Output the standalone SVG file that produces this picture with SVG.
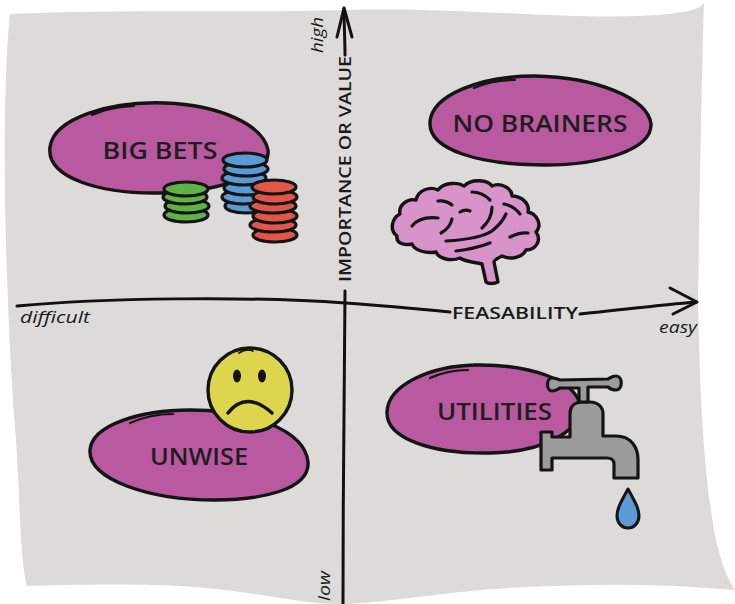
<svg xmlns="http://www.w3.org/2000/svg" width="735" height="604" viewBox="0 0 735 604">
  <style>
    .ink { stroke: #141414; stroke-linecap: round; stroke-linejoin: round; }
    .blob { fill: #b95aa0; stroke: #141414; stroke-width: 3.4; stroke-linejoin: round; }
    .gloss { fill: none; stroke: #141414; stroke-width: 2.2; stroke-linecap: round; }
    .label { font-family: "Open Sans", "Noto Sans", sans-serif; font-size: 24px; font-weight: 600; fill: #1e1e1e; text-anchor: middle; }
    .axis-title { font-family: "Open Sans", "Noto Sans", sans-serif; font-size: 16px; font-weight: 600; fill: #1a1a1a; text-anchor: middle; }
    .axis-end { font-family: "Open Sans", "Noto Sans", sans-serif; font-size: 17px; font-style: italic; fill: #1a1a1a; }
    .axis-line { fill: none; stroke: #111; stroke-width: 3; stroke-linecap: round; stroke-linejoin: round; }
    .coin { stroke: #141414; stroke-width: 3.2; }
    .green { fill: #5fb246; }
    .blue { fill: #5b9bd5; }
    .red { fill: #e0574a; }
    .fold { fill: none; stroke: #141414; stroke-width: 3.2; stroke-linecap: round; }
  </style>

  <!-- sheet of paper -->
  <rect width="735" height="604" fill="#ffffff"/>
  <path id="paper" fill="#dcdbda"
        d="M10,14 C120,9 250,13 345,10 C450,7 560,19 640,16 C680,14 698,11 704,3
           C702,60 700,200 698,300 C700,400 704,480 716,540 C722,565 728,580 735,590
           C650,582 560,584 480,590 C420,596 370,604 340,604 C300,604 250,590 180,586
           C120,583 60,585 27,586 C20,560 20,500 16,440 C11,380 7,300 5,200 C4,120 6,50 10,14 Z"/>

  <!-- axes -->
  <g id="axes">
    <path class="axis-line" d="M343,604 C343,500 344,400 345,291"/>
    <path class="axis-line" d="M345,55 C345,40 344,25 344,9"/>
    <path class="axis-line" stroke-width="3.4" d="M337,37 L344,8 L352,37"/>
    <path class="axis-line" d="M17,306 C100,298 250,296 345,303 C390,306 420,309 450,312"/>
    <path class="axis-line" d="M580,314 C620,310 660,305 696,302"/>
    <path class="axis-line" stroke-width="3.4" d="M670,288 L697,302 L673,314"/>
    <text class="axis-title" transform="translate(351,169) rotate(-90)" textLength="226" lengthAdjust="spacingAndGlyphs">IMPORTANCE OR VALUE</text>
    <text class="axis-title" x="515" y="319" textLength="126" lengthAdjust="spacingAndGlyphs">FEASABILITY</text>
    <text class="axis-end" transform="translate(323,53) rotate(-90)" textLength="36" lengthAdjust="spacingAndGlyphs">high</text>
    <text class="axis-end" transform="translate(330,601) rotate(-90)" textLength="30" lengthAdjust="spacingAndGlyphs">low</text>
    <text class="axis-end" x="20" y="323" textLength="70" lengthAdjust="spacingAndGlyphs">difficult</text>
    <text class="axis-end" x="659" y="333" textLength="38" lengthAdjust="spacingAndGlyphs">easy</text>
  </g>

  <!-- top-left quadrant -->
  <g id="big-bets">
    <path class="blob" d="M50,147 C54,118 110,101 165,103 C220,105 263,125 268,150 C271,176 215,192 160,193 C100,194 46,178 50,147 Z"/>
    <path class="gloss" d="M92,115 Q110,107 134,106"/>
    <text class="label" x="160" y="158.5" textLength="115" lengthAdjust="spacingAndGlyphs">BIG BETS</text>
  </g>

  <g id="chips">
    <g class="coin green">
      <ellipse cx="186" cy="215" rx="22" ry="7"/>
      <ellipse cx="187" cy="206" rx="22" ry="7"/>
      <ellipse cx="185" cy="197" rx="22" ry="7"/>
      <ellipse cx="186" cy="189" rx="22" ry="7"/>
    </g>
    <g class="coin blue">
      <ellipse cx="246" cy="206" rx="21" ry="7"/>
      <ellipse cx="244" cy="197" rx="22" ry="7"/>
      <ellipse cx="246" cy="188" rx="22" ry="7"/>
      <ellipse cx="244" cy="178" rx="22" ry="7"/>
      <ellipse cx="246" cy="169" rx="22" ry="7"/>
      <ellipse cx="245" cy="160" rx="22" ry="7"/>
    </g>
    <g class="coin red">
      <ellipse cx="275" cy="235" rx="22" ry="7"/>
      <ellipse cx="273" cy="225" rx="23" ry="7"/>
      <ellipse cx="275" cy="216" rx="22" ry="7"/>
      <ellipse cx="273" cy="206" rx="23" ry="7"/>
      <ellipse cx="275" cy="197" rx="22" ry="7"/>
      <ellipse cx="274" cy="187" rx="22" ry="7"/>
    </g>
  </g>

  <!-- top-right quadrant -->
  <g id="no-brainers">
    <path class="blob" d="M430,122 C432,95 480,76 535,76 C595,77 648,98 651,124 C652,150 600,165 545,165 C480,165 428,150 430,122 Z"/>
    <path class="gloss" d="M474,88 Q492,80 515,80"/>
    <text class="label" x="540" y="131.5" textLength="175" lengthAdjust="spacingAndGlyphs">NO BRAINERS</text>
  </g>

  <g id="brain">
    <path fill="#d993cb" stroke="#141414" stroke-width="3.4" stroke-linejoin="round"
          d="M397,236 C389,230 392,218 400,214 C398,205 408,198 416,200 C418,190 430,186 438,190
             C444,182 458,182 464,186 C472,178 488,180 492,186 C500,182 512,188 512,196
             C522,196 530,204 528,212 C538,214 542,226 536,232 C542,240 536,250 526,250
             C522,258 510,260 502,256 C498,258 494,260 494,262 L498,282 C494,284 488,284 486,282
             L482,264 C474,262 466,262 460,258 C450,262 438,258 436,252 C426,254 414,250 412,244
             C402,246 396,242 397,236 Z"/>
    <path class="fold" d="M412,226 Q420,216 438,218"/>
    <path class="fold" d="M438,201 Q446,200 452,205"/>
    <path class="fold" d="M441,233 Q450,228 452,219"/>
    <path class="fold" d="M446,241 Q480,239 492,231 Q502,223 506,214"/>
    <path class="fold" d="M460,212 Q465,209 470,211"/>
    <path class="fold" d="M472,192 Q482,192 490,200"/>
    <path class="fold" d="M492,207 Q492,219 482,228"/>
    <path class="fold" d="M504,204 Q514,206 520,214"/>
    <path class="fold" d="M456,251 Q474,249 490,243"/>
    <path class="fold" d="M510,237 Q520,232 528,233"/>
  </g>

  <!-- bottom-left quadrant -->
  <g id="unwise">
    <path class="blob" d="M90,450 C92,425 140,410 190,410 C250,410 305,430 308,462 C310,490 260,500 215,500 C150,500 88,480 90,450 Z"/>
    <path class="gloss" d="M130,423 Q150,414 173,414"/>
    <text class="label" x="199" y="465" textLength="98" lengthAdjust="spacingAndGlyphs">UNWISE</text>
  </g>

  <g id="sad-face">
    <circle cx="250" cy="390" r="42" fill="#ded54e" stroke="#141414" stroke-width="3.4"/>
    <ellipse cx="237" cy="376" rx="4" ry="6.5" fill="#141414"/>
    <ellipse cx="262" cy="376" rx="4" ry="6.5" fill="#141414"/>
    <path class="ink" fill="none" stroke-width="3.4" d="M228,413 Q246,390 272,413"/>
    <path class="ink" fill="none" stroke-width="1.8" d="M239,353 Q246,348 253,351"/>
  </g>

  <!-- bottom-right quadrant -->
  <g id="utilities">
    <path class="blob" d="M387,412 C388,385 430,366 475,365 C530,364 575,380 580,405 C583,430 545,452 490,453 C430,454 386,438 387,412 Z"/>
    <path class="gloss" d="M430,378 Q448,370 468,370"/>
    <text class="label" x="494.5" y="420" textLength="115" lengthAdjust="spacingAndGlyphs">UTILITIES</text>
  </g>

  <g id="faucet">
    <path fill="#9b9b9b" class="ink" stroke-width="3.2"
          d="M541,432 L552,432 L552,437 L570,437 L570,414 C570,406 575,402 582,402 L590,402
             C598,402 603,407 603,414 L603,436 L616,436 C630,436 638,446 638,460 L638,478
             L614,478 L614,464 C614,460 611,458 607,458 L552,458 L552,470 L541,470 Z"/>
    <path fill="#9b9b9b" class="ink" stroke-width="3.2"
          d="M552,378 C546,378 546,391 552,391 C556,391 558,389 560,388 L579,388 L579,402 L588,402
             L588,387 L608,387 C610,389 612,390 616,390 C623,390 623,376 616,376 C612,376 610,378 608,379
             L560,380 C558,379 556,378 552,378 Z"/>
    <path fill="#5b9bd5" class="ink" stroke-width="3"
          d="M628,489 C622,500 617,508 617,516 C617,523 622,528 628,528 C634,528 639,523 639,516 C639,508 634,500 628,489 Z"/>
  </g>
</svg>
